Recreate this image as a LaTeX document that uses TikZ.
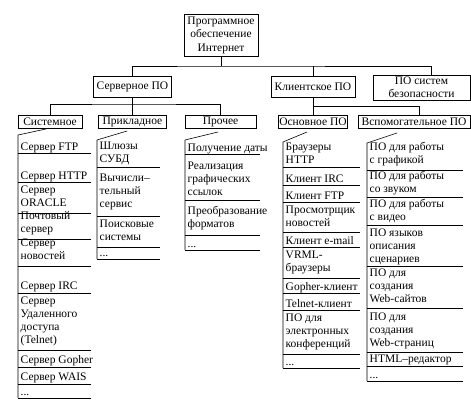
\documentclass[tikz,border=0pt]{standalone}
\usepackage{fontspec}
\setmainfont{Liberation Serif}
\newcommand\itemfont{\fontsize{11.5}{13}\selectfont}
\begin{document}
\begin{tikzpicture}[x=1pt,y=-1pt,
  hdr/.style={draw, line width=0.8pt, inner sep=0pt, align=center, font=\itemfont},
  itm/.style={anchor=north west, inner sep=0pt, align=left, font=\itemfont,
              execute at begin node={\rule{0pt}{10.5pt}}},
  sepline/.style={line width=0.6pt},
  tree/.style={line width=0.8pt}]
\useasboundingbox (0,0) rectangle (471,403);

% headers
\node[hdr, minimum width=74pt, minimum height=42pt,
      font=\fontsize{11.5}{13.5}\selectfont] (top) at (221,35)
      {Программное\\обеспечение\\Интернет};
\node[hdr, minimum width=78pt, minimum height=21pt] (srv) at (132.5,86.5) {Серверное ПО};
\node[hdr, minimum width=84pt, minimum height=21pt] (cli) at (313,86.5) {Клиентское ПО};
\node[hdr, minimum width=97pt, minimum height=25pt,
      font=\fontsize{11.5}{12.5}\selectfont] (bez) at (421.5,87.5) {ПО систем\\безопасности};
\node[hdr, minimum width=64pt, minimum height=13pt] (sys) at (50,121.5) {Системное};
\node[hdr, minimum width=68pt, minimum height=13pt] (prk) at (132.5,121.5) {Прикладное};
\node[hdr, minimum width=71pt, minimum height=13pt] (pro) at (220.5,121.5) {Прочее};
\node[hdr, minimum width=69pt, minimum height=13pt] (osn) at (313,121.5) {Основное ПО};
\node[hdr, minimum width=112pt, minimum height=13pt] (vsp) at (414,121.5) {Вспомогательное ПО};

% tree
\coordinate (j1) at (221,66);
\coordinate (j2) at (132.5,104);
\coordinate (j3) at (313,106);
\draw[tree] (top) -- (j1);
\draw[tree] (srv) |- (j1) -| ([xshift=9.5pt]bez.north);
\draw[tree] (cli) -- (cli |- j1);
\draw[tree] (srv) -- (prk);
\draw[tree] (sys) |- (j2) -| (pro);
\draw[tree] (cli) -- (osn);
\draw[tree] (j3) -| ([xshift=5pt]vsp.north);

% list: Системное
\draw[sepline] (46,129) -- (18,135) -- (18,398);
\foreach \nm/\bl/\sp/\tx in {
  s1/150/153/{Сервер FTP},
  s2/179/182/{Сервер HTTP},
  s3/196/213/{Сервер\\ORACLE},
  s4/222/239/{Почтовый\\сервер},
  s5/249/266/{Сервер\\новостей},
  s6/289/293/{Сервер IRC},
  s7/307/350/{Сервер\\Удаленного\\доступа\\(Telnet)},
  s8/363/367/{Сервер Gopher},
  s9/380/384/{Сервер WAIS},
  s10/395/398/{...}}{
  \node[itm] (\nm) at (20.5,\bl-10.5) {\tx};
  \draw[sepline] (18,\sp) -- (91,\sp);
}

% list: Прикладное
\draw[sepline] (127,131) -- (97,140) -- (97,259);
\foreach \nm/\bl/\sp/\tx in {
  p1/152/167.5/{Шлюзы\\СУБД},
  p2/184/216/{Вычисли–\\тельный\\сервис},
  p3/230/247/{Поисковые\\системы},
  p4/256/259/{...}}{
  \node[itm] (\nm) at (99.5,\bl-10.5) {\tx};
  \draw[sepline] (97,\sp) -- (160,\sp);
}

% list: Прочее
\draw[sepline] (218,132) -- (185,140) -- (185,250);
\foreach \nm/\bl/\sp/\tx in {
  r1/151.5/154/{Получение даты},
  r2/172/200/{Реализация\\графических\\ссылок},
  r3/217/235/{Преобразование\\форматов},
  r4/247/250/{...}}{
  \node[itm] (\nm) at (187.5,\bl-10.5) {\tx};
  \draw[sepline] (185,\sp) -- (260,\sp);
}

% list: Основное ПО
\draw[sepline] (307,132) -- (283,142) -- (283,368);
\foreach \nm/\bl/\sp/\tx in {
  o1/153/167/{Браузеры\\HTTP},
  o2/182/185/{Клиент IRC},
  o3/199/202/{Клиент FTP},
  o4/216/232/{Просмотрщик\\новостей},
  o5/244/247/{Клиент e-mail},
  o6/261/278/{VRML-\\браузеры},
  o7/290.5/293/{Gopher-клиент},
  o8/307/310/{Telnet-клиент},
  o9/324/354/{ПО для\\электронных\\конференций},
  o10/365.5/368/{...}}{
  \node[itm] (\nm) at (285.5,\bl-10.5) {\tx};
  \draw[sepline] (283,\sp) -- (360,\sp);
}

% list: Вспомогательное ПО
\draw[sepline] (397,133) -- (367,143) -- (367,381);
\foreach \nm/\bl/\sp/\tx in {
  v1/153/170/{ПО для работы\\с графикой},
  v2/182/197/{ПО для работы\\со звуком},
  v3/210/225/{ПО для работы\\с видео},
  v4/239/266/{ПО языков\\описания\\сценариев},
  v5/279/308/{ПО для\\создания\\Web-сайтов},
  v6/323/352/{ПО для\\создания\\Web-страниц},
  v7/362.5/366/{HTML–редактор},
  v8/378.5/381/{...}}{
  \node[itm] (\nm) at (369.5,\bl-10.5) {\tx};
  \draw[sepline] (367,\sp) -- (463,\sp);
}
\end{tikzpicture}
\end{document}
